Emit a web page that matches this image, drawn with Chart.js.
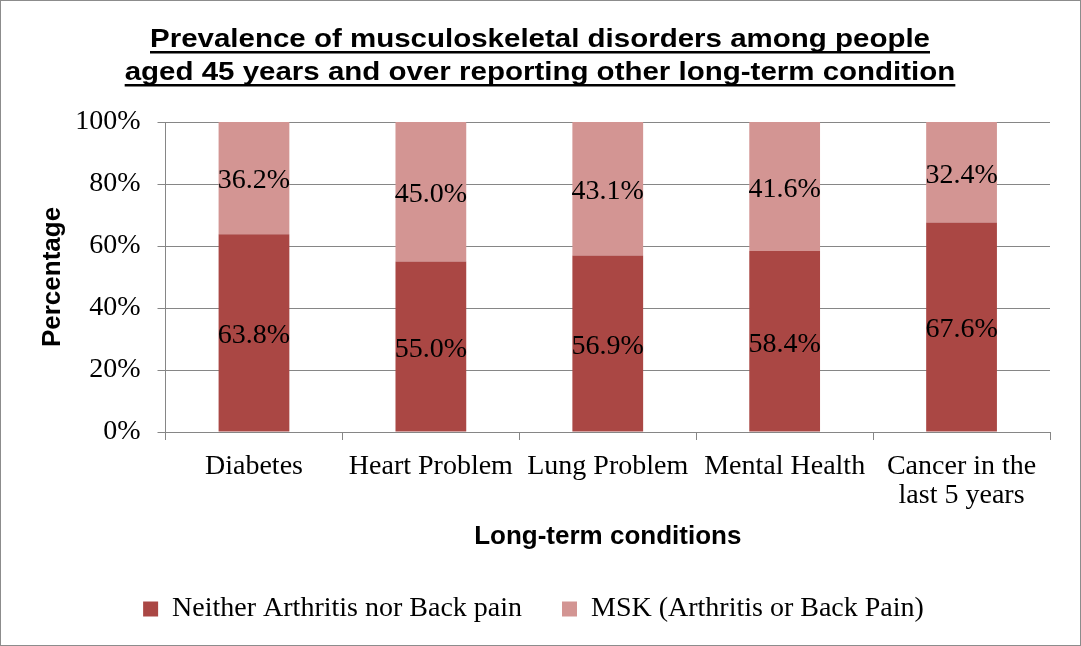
<!DOCTYPE html>
<html>
<head>
<meta charset="utf-8">
<script src="https://cdn.jsdelivr.net/npm/chart.js@4"></script>
<style>
  html, body { margin: 0; padding: 0; background: #fff; }
  #wrap { width: 1079px; height: 644px; border: 1px solid #8c8c8c; position: relative; }
</style>
</head>
<body>
<div id="wrap"><canvas id="msk"></canvas></div>
<script>
const conditions = ['Diabetes', 'Heart Problem', 'Lung Problem', 'Mental Health', ['Cancer in the', 'last 5 years']];
const neitherValues = [63.8, 55.0, 56.9, 58.4, 67.6];
const mskValues = [36.2, 45.0, 43.1, 41.6, 32.4];
const titleLines = ['Prevalence of musculoskeletal disorders among people', 'aged 45 years and over reporting other long-term condition'];

const SERIF = "'Liberation Serif', 'DejaVu Serif', serif";
const SANS = "'Liberation Sans', Arial, sans-serif";

// underlined title, drawn by hand (the original is a bit stretched sideways)
const titlePlugin = {
    id: 'underlinedTitle',
    afterDraw(chart) {
        const ctx = chart.ctx;
        ctx.save();
        ctx.font = "bold 25px " + SANS;
        ctx.fillStyle = '#000';
        const sx = 780 / ctx.measureText(titleLines[0]).width;
        const cx = 539;
        const baselines = [46, 79];
        titleLines.forEach((line, i) => {
            const w = ctx.measureText(line).width * sx;
            const y = baselines[i];
            ctx.save();
            ctx.translate(cx - w / 2, y);
            ctx.scale(sx, 1);
            ctx.textAlign = 'left';
            ctx.textBaseline = 'alphabetic';
            ctx.fillText(line, 0, 0);
            ctx.restore();
            ctx.fillRect(cx - w / 2, y + 4, w, 2.5);
        });
        ctx.restore();
    }
};

// value labels centred in each segment
const valueLabels = {
    id: 'valueLabels',
    afterDatasetsDraw(chart) {
        const ctx = chart.ctx;
        ctx.save();
        ctx.font = "28px " + SERIF;
        ctx.fillStyle = '#000';
        ctx.textAlign = 'center';
        ctx.textBaseline = 'middle';
        chart.data.datasets.forEach((ds, di) => {
            chart.getDatasetMeta(di).data.forEach((bar, i) => {
                const mid = (bar.y + bar.base) / 2;
                ctx.fillText(ds.data[i].toFixed(1) + '%', bar.x, mid + 3);
            });
        });
        ctx.restore();
    }
};

new Chart(document.getElementById('msk'), {
    type: 'bar',
    data: {
        labels: conditions,
        datasets: [{
            label: 'Neither Arthritis nor Back pain',
            data: neitherValues,
            backgroundColor: '#aa4744'
        }, {
            label: 'MSK (Arthritis or Back Pain)',
            data: mskValues,
            backgroundColor: '#d39593'
        }]
    },
    options: {
        responsive: true,
        maintainAspectRatio: false,
        animation: false,
        layout: { padding: { top: 121, right: 30, left: 16, bottom: 12 } },
        datasets: { bar: { categoryPercentage: 1.0, barPercentage: 0.4 } },
        plugins: {
            legend: {
                position: 'bottom',
                labels: {
                    font: { family: SERIF, size: 28 },
                    color: '#000',
                    boxWidth: 15,
                    boxHeight: 15,
                    padding: 40
                }
            },
            tooltip: { enabled: false }
        },
        scales: {
            x: {
                stacked: true,
                grid: {
                    offset: true,
                    drawOnChartArea: false,
                    color: '#868686',
                    tickLength: 8
                },
                border: { color: '#868686' },
                ticks: {
                    color: '#000',
                    font: { family: SERIF, size: 28, lineHeight: 1.05 },
                    maxRotation: 0,
                    autoSkip: false,
                    padding: 12
                },
                title: {
                    display: true,
                    text: 'Long-term conditions',
                    color: '#000',
                    font: { family: SANS, size: 26, weight: 'bold' },
                    padding: { top: -2, bottom: 3 }
                }
            },
            y: {
                stacked: true,
                min: 0,
                max: 100,
                ticks: {
                    stepSize: 20,
                    color: '#000',
                    font: { family: SERIF, size: 28 },
                    callback: v => v + '%',
                    padding: 17
                },
                grid: { color: '#868686', tickLength: 8 },
                border: { color: '#868686' },
                title: {
                    display: true,
                    text: 'Percentage',
                    color: '#000',
                    font: { family: SANS, size: 26, weight: 'bold' },
                    padding: { top: 20, bottom: -10 }
                }
            }
        }
    },
    plugins: [titlePlugin, valueLabels]
});
</script>
</body>
</html>
